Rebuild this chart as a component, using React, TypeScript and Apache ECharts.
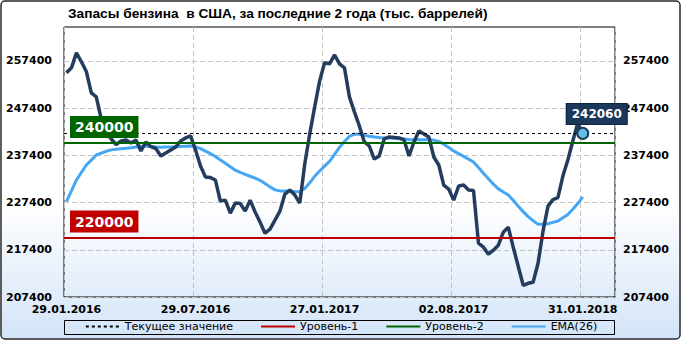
import React, { useEffect, useRef } from 'react';
import * as echarts from 'echarts';

const titleText = 'Запасы бензина  в США, за последние 2 года (тыс. баррелей)';
const tickLabels = ['29.01.2016', '29.07.2016', '27.01.2017', '02.08.2017', '31.01.2018'];
const labelEvery = 26;
const weekSlots = 111;

const stocks = [
  254900, 255950, 259140, 257230, 255170, 250650, 249800, 245130, 242370, 240880,
  239710, 240460, 240670, 240030, 240670, 238330, 240240, 239250, 238860, 237270,
  237910, 238540, 239180, 240460, 241090, 241520, 238540, 235150, 232810, 232700,
  232180, 227720, 227930, 225170, 227290, 227200, 225590, 227930, 225400, 223260,
  220920, 221770, 223680, 225590, 229200, 230050, 228990, 227290, 235570, 241940,
  247670, 253190, 257010, 256800, 258710, 256800, 255950, 249800, 246610, 243640,
  240240, 239390, 236630, 237270, 240880, 241300, 241200, 241090, 240670, 237270,
  240240, 242580, 241940, 241300, 237060, 235360, 231110, 230270, 227930, 230900,
  231110, 230050, 229950, 218800, 217950, 216470, 217310, 218380, 221140, 222200,
  217950, 213920, 209880, 210310, 210520, 214560, 221350, 226660, 228040, 228460,
  233020, 236420, 240460, 244280, 242060,
];

const ema26 = [
  227590, 229900, 232180, 233770, 235360, 236400, 237480, 237870, 238270, 238570,
  238690, 238800, 238910, 239030, 239180, 239330, 239350, 239270, 239180, 239120,
  239160, 239200, 239250, 239290, 239330, 239370, 239200, 238820, 238290, 237760,
  237160, 236440, 235720, 235000, 234260, 233790, 233390, 232980, 232580, 232130,
  231430, 230730, 230100, 229880, 229860, 229840, 229730, 229630, 230410, 231580,
  232960, 234090, 235130, 236150, 237610, 239100, 240350, 241430, 241880, 241920,
  241640, 241450, 241300, 241180, 241110, 241070, 241010, 240920, 240860, 240790,
  240730, 240690, 240730, 240790, 240630, 240370, 239780, 239080, 238350, 237760,
  237190, 236610, 236000, 234810, 233640, 232450, 231310, 230310, 229650, 229010,
  227910, 226630, 225490, 224430, 223580, 222790, 222810, 222920, 223220, 223510,
  224190, 224890, 225980, 227190, 228610,
];

const yTicks = [207400, 217400, 227400, 237400, 247400, 257400];
const yMin = 207400;
const yMax = 264600;
const level1 = 220000;
const level2 = 240000;
const currentValue = stocks[stocks.length - 1];

const legendNames = ['Текущее значение', 'Уровень-1', 'Уровень-2', 'EMA(26)'];

const AXIS_FONT = 'DejaVu Sans';

export default function App() {
  const ref = useRef<HTMLDivElement>(null);

  useEffect(() => {
    if (!ref.current) return;
    const chart = echarts.init(ref.current, null, { renderer: 'svg' });
    const categories = Array.from({ length: weekSlots }, (_, i) => String(i));

    const yAxisBase = {
      type: 'value',
      min: yMin,
      max: yMax,
      axisLine: { show: false },
      axisTick: { show: false, customValues: yTicks },
      axisLabel: {
        customValues: yTicks,
        color: '#000',
        fontFamily: AXIS_FONT,
        fontWeight: 'bold',
        fontSize: 11,
        formatter: (v: number) => String(v),
      },
    };

    const levelLabel = (bg: string) => ({
      show: true,
      position: 'insideStartTop',
      distance: [6, 5],
      formatter: '{c}',
      color: '#fff',
      fontFamily: AXIS_FONT,
      fontWeight: 'bold',
      fontSize: 14,
      lineHeight: 16,
      backgroundColor: bg,
      padding: [3, 5, 3, 5],
    });

    chart.setOption({
      animation: false,
      graphic: [
        {
          type: 'rect',
          z: -10,
          silent: true,
          shape: { x: 1, y: 1, width: 679, height: 338, r: 4 },
          style: {
            fill: new echarts.graphic.LinearGradient(0, 0, 0, 1, [
              { offset: 0, color: '#ffffff' },
              { offset: 0.6, color: '#ffffff' },
              { offset: 1, color: '#d3e4f8' },
            ]),
            stroke: '#2a2a2a',
            lineWidth: 1.5,
          },
        },
        {
          type: 'rect',
          silent: true,
          shape: { x: 64.5, y: 320.5, width: 550, height: 14 },
          style: { fill: 'none', stroke: '#000', lineWidth: 1 },
        },
        {
          type: 'text',
          left: 68,
          top: 6,
          silent: true,
          style: {
            text: titleText,
            fill: '#000',
            font: 'bold 13.7px "Liberation Sans"',
          },
        },
      ],
      grid: {
        left: 64,
        right: 67,
        top: 27,
        bottom: 44,
        show: true,
        borderColor: '#000',
        borderWidth: 1,
        backgroundColor: 'transparent',
      },
      legend: {
        data: legendNames,
        left: 'center',
        top: 321,
        padding: 0,
        itemWidth: 34,
        itemHeight: 10,
        itemGap: 27,
        itemStyle: { opacity: 0 },
        textStyle: { fontFamily: AXIS_FONT, fontSize: 11, color: '#000' },
      },
      xAxis: {
        type: 'category',
        data: categories,
        boundaryGap: true,
        axisLine: { show: false },
        axisTick: { show: false, interval: labelEvery - 1 },
        axisLabel: {
          interval: labelEvery - 1,
          margin: 7,
          color: '#000',
          fontFamily: AXIS_FONT,
          fontWeight: 'bold',
          fontSize: 11,
          formatter: (_v: string, idx: number) =>
            idx % labelEvery === 0 ? tickLabels[idx / labelEvery] ?? '' : '',
        },
        splitLine: {
          show: true,
          interval: labelEvery - 1,
          lineStyle: { color: '#c4c4c4', type: [5, 3], width: 1 },
        },
      },
      yAxis: [
        {
          ...yAxisBase,
          position: 'left',
          axisLabel: { ...yAxisBase.axisLabel, margin: 12 },
          splitLine: { show: true, lineStyle: { color: '#c4c4c4', type: [5, 3], width: 1 } },
        },
        {
          ...yAxisBase,
          position: 'right',
          axisLabel: { ...yAxisBase.axisLabel, margin: 8 },
          splitLine: { show: false },
        },
      ],
      series: [
        {
          name: 'Текущее значение',
          type: 'line',
          data: [],
          symbol: 'none',
          z: 1,
          lineStyle: { color: '#000', width: 1, type: [3, 3] },
          itemStyle: { color: '#000' },
          markLine: {
            silent: true,
            symbol: 'none',
            label: { show: false },
            lineStyle: { color: '#000', width: 1, type: [3, 3] },
            data: [{ yAxis: currentValue }],
          },
        },
        {
          name: 'Уровень-1',
          type: 'line',
          data: [],
          symbol: 'none',
          z: 1,
          lineStyle: { color: '#c00000', width: 3 },
          itemStyle: { color: '#c00000' },
          markLine: {
            silent: true,
            symbol: 'none',
            label: { show: false },
            lineStyle: { color: '#c00000', width: 2, type: 'solid' },
            data: [{ yAxis: level1 }],
          },
        },
        {
          name: 'Уровень-2',
          type: 'line',
          data: [],
          symbol: 'none',
          z: 1,
          lineStyle: { color: '#006400', width: 3 },
          itemStyle: { color: '#006400' },
          markLine: {
            silent: true,
            symbol: 'none',
            label: { show: false },
            lineStyle: { color: '#006400', width: 2, type: 'solid' },
            data: [{ yAxis: level2 }],
          },
        },
        {
          name: 'EMA(26)',
          type: 'line',
          data: ema26,
          symbol: 'none',
          z: 2,
          lineStyle: { color: '#45a6f4', width: 3 },
          itemStyle: { color: '#45a6f4' },
        },
        {
          name: 'Запасы',
          type: 'line',
          data: stocks,
          symbol: 'none',
          z: 3,
          lineStyle: { color: '#243d5f', width: 3.5 },
          itemStyle: { color: '#243d5f' },
          markPoint: {
            silent: true,
            symbol: 'circle',
            symbolSize: 11,
            itemStyle: { color: '#62bfe2', borderColor: '#1d3a5c', borderWidth: 2 },
            label: {
              show: true,
              position: 'top',
              offset: [14, 2],
              formatter: '{c}',
              color: '#fff',
              fontFamily: AXIS_FONT,
              fontWeight: 'bold',
              fontSize: 12,
              lineHeight: 14,
              backgroundColor: '#1b375a',
              borderColor: '#0d2340',
              borderWidth: 1,
              padding: [3, 5, 3, 5],
            },
            data: [{ coord: [stocks.length - 1, currentValue], value: currentValue }],
          },
        },
        {
          name: 'levelLabels',
          type: 'line',
          data: [],
          symbol: 'none',
          z: 5,
          markLine: {
            silent: true,
            symbol: 'none',
            lineStyle: { color: 'rgba(0,0,0,0)', width: 0 },
            data: [
              { yAxis: level2, label: levelLabel('#006400') },
              { yAxis: level1, label: levelLabel('#c00000') },
            ],
          },
        },
      ],
    });
    return () => chart.dispose();
  }, []);

  return (
    <div
      ref={ref}
      style={{ position: 'absolute', left: 0, top: 0, width: 682, height: 341 }}
    />
  );
}
